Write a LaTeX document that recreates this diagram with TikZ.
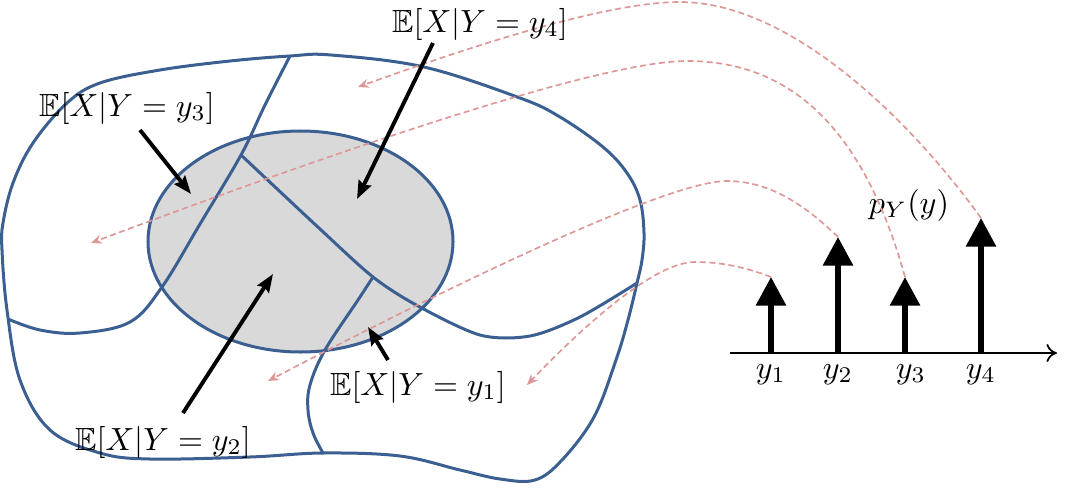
\documentclass[tikz,border=0pt]{standalone}
\usepackage{amssymb}
\usetikzlibrary{arrows.meta}
\definecolor{blobblue}{RGB}{60,95,145}
\definecolor{dashpink}{RGB}{222,150,150}
\definecolor{cellgray}{RGB}{217,217,217}
\begin{document}
\begin{tikzpicture}[x=0.3333pt,y=-0.3333pt,
  every node/.style={scale=1.068,transform shape},
  region/.style={draw=blobblue,line width=1pt},
  mapline/.style={draw=dashpink,line width=0.55pt,dash pattern=on 2pt off 1.2pt,-{Stealth[length=3.6pt,width=3pt]}},
  pointer/.style={line width=1.3pt,-{Stealth[length=6pt,width=4.5pt,inset=0.8pt]}},
  spike/.style={line width=1.8pt,-{Triangle[length=9.5pt,width=9.7pt]}},
  axisline/.style={line width=0.6pt,-{To[length=3.5pt,width=6pt]}},
  lab/.style={inner sep=1pt}]
\useasboundingbox (0,0) rectangle (1072,487);
% outer region
\draw[region] plot[smooth cycle, tension=0.6] coordinates {
 (2,250) (3,223) (13,183) (33,143) (67,103) (100,83) (160,70) (230,61) (290,56) (331,55) (424,67)
 (520,98) (560,117) (603,147) (627,173) (640,200) (644,233) (642,260) (637,283) (628,320) (616,360)
 (594,417) (562,460) (535,480) (500,479) (460,470) (400,456) (323,453)
 (250,457) (150,459) (100,453) (50,430) (20,380) (7,310)};
% gray ellipse
\draw[region,fill=cellgray] (300.5,241.5) ellipse [x radius=50.83pt, y radius=36.83pt];
% partition lines
\coordinate (J1) at (241,155);
\coordinate (J2) at (373,277);
\draw[region] plot[smooth, tension=0.6] coordinates {(290,56) (265,105) (J1) (200,224) (162,287) (130,322) (80,333) (40,330) (8,319)};
\draw[region] plot[smooth, tension=0.5] coordinates {(J1) (320,229) (J2) (418,306) (480,335) (530,336) (580,317) (637,283)};
\draw[region] plot[smooth, tension=0.6] coordinates {(J2) (358,300) (325,350) (310,385) (308,410) (313,433) (323,453)};
% axis and spikes
\coordinate (a0) at (730,353);
\coordinate (a1) at (1057,353);
\draw[axisline] (a0) -- (a1);
\coordinate (f1) at (771,353); \coordinate (t1) at (771,277);
\coordinate (f2) at (838,353); \coordinate (t2) at (838,237);
\coordinate (f3) at (905,353); \coordinate (t3) at (905,277);
\coordinate (f4) at (981,353); \coordinate (t4) at (981,218);
\draw[spike] (f1) -- (t1);
\draw[spike] (f2) -- (t2);
\draw[spike] (f3) -- (t3);
\draw[spike] (f4) -- (t4);
\node[anchor=north] (n1) at (f1) {$y_1$};
\node[anchor=north] (n2) at (f2) {$y_2$};
\node[anchor=north] (n3) at (911,353) {$y_3$};
\node[anchor=north] (n4) at (f4) {$y_4$};
\node (py) at (909,205) {$p_Y(y)$};
% mapping curves
\coordinate (e1) at (527,385);
\coordinate (e2) at (268,381);
\coordinate (e3) at (91,243);
\coordinate (e4) at (358,87);
\coordinate (k4) at (680,2);
\coordinate (k3) at (687,61);
\coordinate (k2) at (727,181);
\coordinate (k1) at (695,262);
\draw[mapline] (t4) .. controls (903,110) and (785,2) .. (k4) .. controls (600,2) and (450,54) .. (e4);
\draw[mapline] (t3) .. controls (860,115) and (780,61) .. (k3) .. controls (590,61) and (280,172) .. (e3);
\draw[mapline] (t2) .. controls (800,200) and (765,181) .. (k2) .. controls (660,181) and (400,312) .. (e2);
\draw[mapline] (t1) .. controls (740,265) and (715,262) .. (k1) .. controls (650,262) and (570,340) .. (e1);
% labels and pointers
\node[lab] (l4) at (480,24) {$\mathbb{E}[X|Y=y_4]$};
\node[lab] (l3) at (127,108) {$\mathbb{E}[X|Y=y_3]$};
\node[lab] (l2) at (163,442) {$\mathbb{E}[X|Y=y_2]$};
\node[lab] (l1) at (418,387) {$\mathbb{E}[X|Y=y_1]$};
\coordinate (s4) at (433,43);  \coordinate (p4) at (357,199);
\coordinate (s3) at (140,130); \coordinate (p3) at (191,194);
\coordinate (s2) at (183,413); \coordinate (p2) at (273,274);
\coordinate (s1) at (388,360); \coordinate (p1) at (368,327);
\draw[pointer] (s4) -- (p4);
\draw[pointer] (s3) -- (p3);
\draw[pointer] (s2) -- (p2);
\draw[pointer] (s1) -- (p1);
\end{tikzpicture}
\end{document}
